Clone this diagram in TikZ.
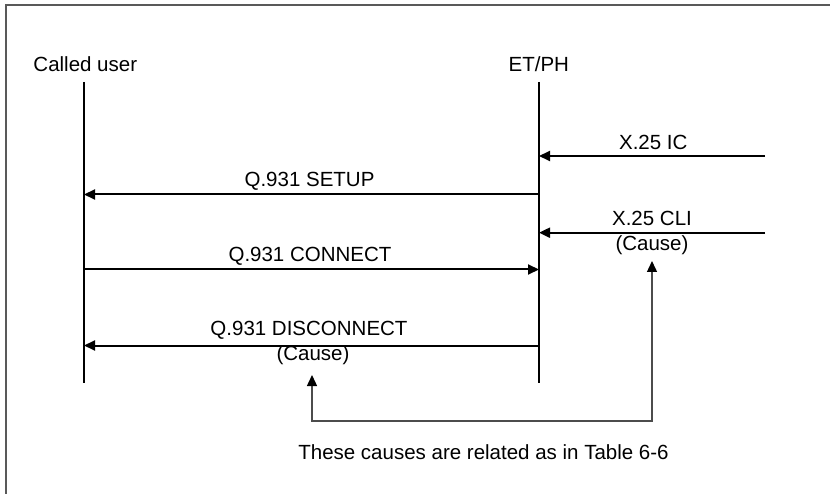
\documentclass[tikz,border=0pt]{standalone}
\usepackage{fontspec}
\setmainfont{Liberation Sans}
\usetikzlibrary{arrows.meta}
\begin{document}
\begin{tikzpicture}[x=1pt,y=-1pt,
  lbl/.style={font=\fontsize{20.5}{24}\selectfont, inner sep=0pt, anchor=base},
  life/.style={line width=2pt, black},
  msg/.style={line width=2pt, black, -{Triangle[length=11pt,width=10pt]}},
  rel/.style={line width=1.4pt, black!70, -{Triangle[length=11pt,width=10pt,color=black]}},
  frame/.style={line width=1.5pt, black!65}]
\useasboundingbox (0,0) rectangle (830,494);
\coordinate (fBL) at (6,494);
\coordinate (fTL) at (6,5);
\coordinate (fTR) at (830,5);
\draw[frame] (fBL) -- (fTL) -- (fTR);
% headers
\node[lbl] (cu) at (85.3,71.3) {Called user};
\node[lbl] (et) at (538.8,71.3) {ET/PH};
% lifelines
\coordinate (cuT) at (84,82);
\coordinate (cuB) at (84,383);
\coordinate (etT) at (539,82);
\coordinate (etB) at (539,383);
\draw[life] (cuT) -- (cuB);
\draw[life] (etT) -- (etB);
% external endpoints
\coordinate (icR) at (765,156);
\coordinate (icL) at (539,156);
\coordinate (suR) at (539,194.5);
\coordinate (suL) at (84,194.5);
\coordinate (cliR) at (765,232.7);
\coordinate (cliL) at (539,232.7);
\coordinate (coL) at (84,269.5);
\coordinate (coR) at (539,269.5);
\coordinate (diR) at (539,345.5);
\coordinate (diL) at (84,345.5);
% messages
\draw[msg] (icR) -- (icL);
\draw[msg] (suR) -- (suL);
\draw[msg] (cliR) -- (cliL);
\draw[msg] (coL) -- (coR);
\draw[msg] (diR) -- (diL);
% labels
\node[lbl] (ic) at (653.3,150) {X.25 IC};
\node[lbl] (su) at (309.5,186.7) {Q.931 SETUP};
\node[lbl] (cli) at (652,225.7) {X.25 CLI};
\node[lbl] (clic) at (652,250.7) {(Cause)};
\node[lbl] (co) at (310,261.7) {Q.931 CONNECT};
\node[lbl] (di) at (309,336) {Q.931 DISCONNECT};
\node[lbl] (dic) at (313,360.5) {(Cause)};
\node[lbl] (note) at (483.5,459.3) {These causes are related as in Table 6-6};
% relation bracket
\coordinate (b1) at (652,421);
\coordinate (b2) at (312,421);
\coordinate (t1) at (652,261);
\coordinate (t2) at (312,375);
\draw[rel] (b1) -- (b2) -- (t2);
\draw[rel] (b2) -- (b1) -- (t1);
\end{tikzpicture}
\end{document}
